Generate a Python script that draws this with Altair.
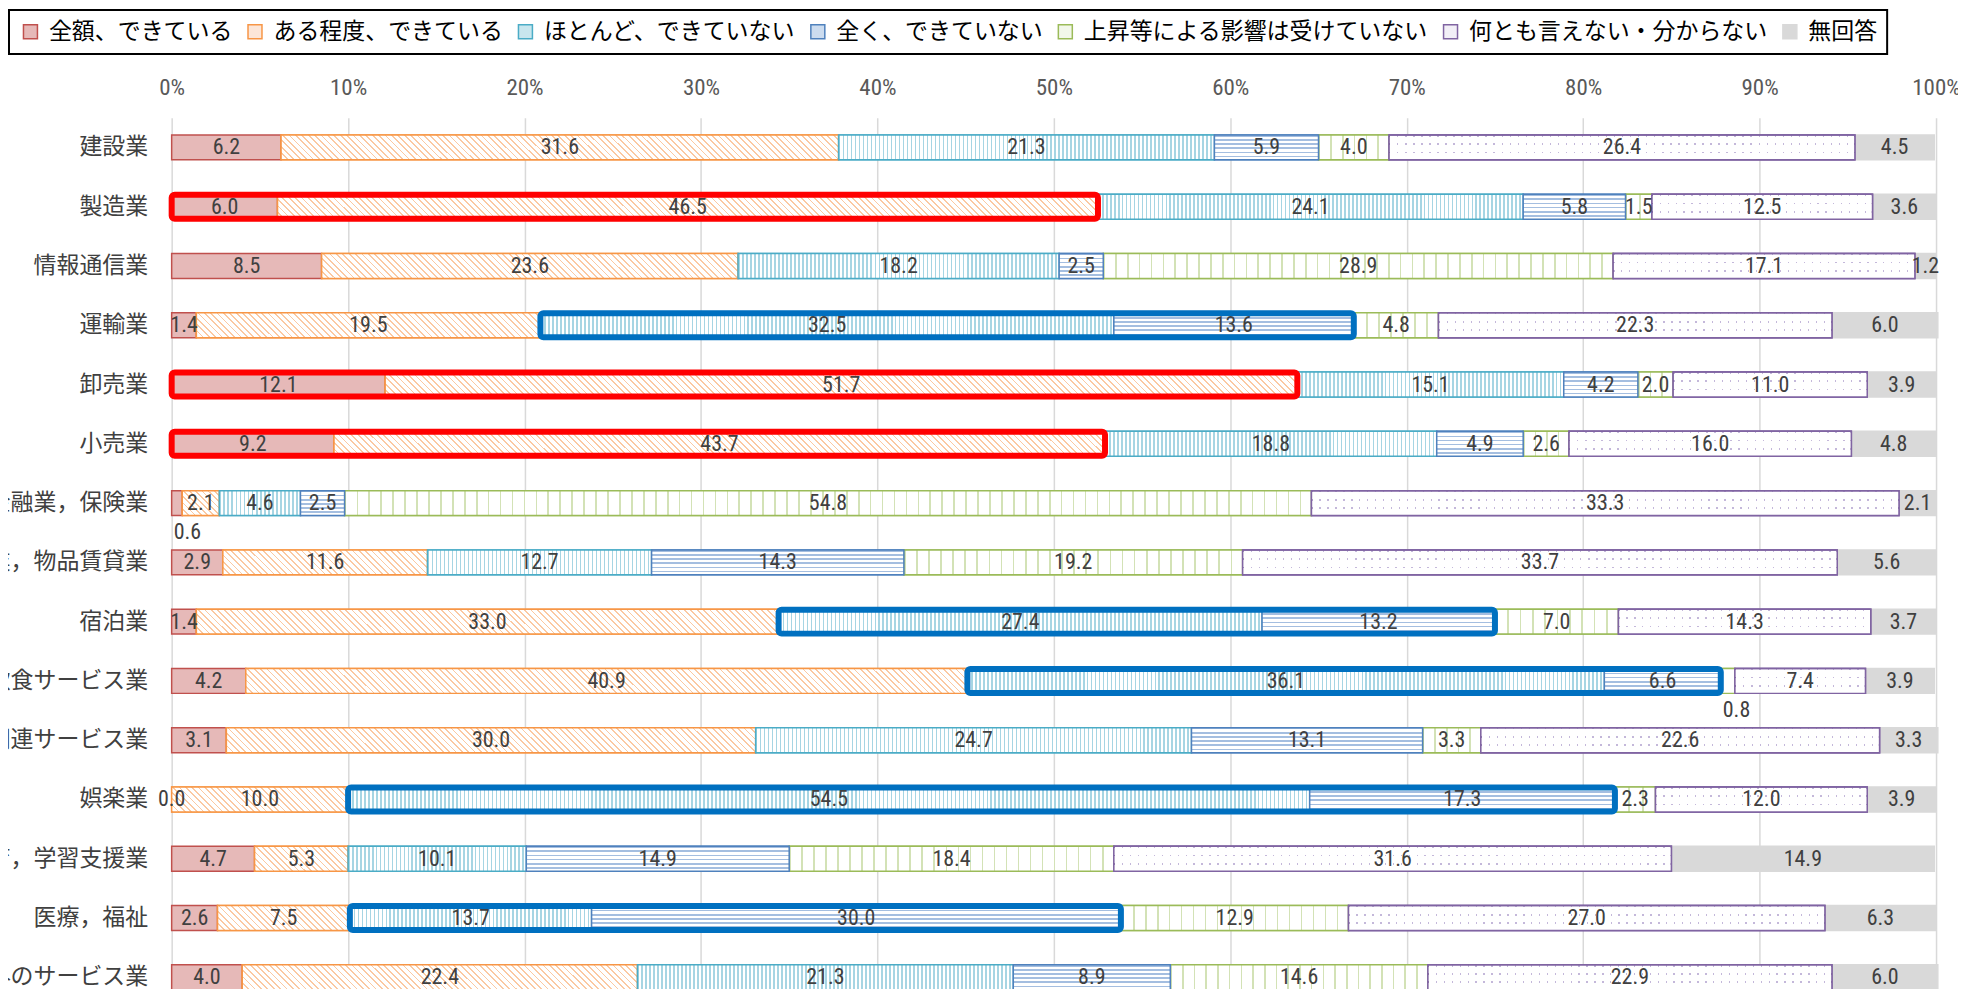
import altair as alt
import pandas as pd

categories = ["建設業", "製造業", "情報通信業", "運輸業", "卸売業", "小売業", "金融業，保険業",
              "不動産業，物品賃貸業", "宿泊業", "飲食サービス業", "生活関連サービス業", "娯楽業",
              "教育，学習支援業", "医療，福祉", "上記以外のサービス業"]
series = ["全額、できている", "ある程度、できている", "ほとんど、できていない", "全く、できていない",
          "上昇等による影響は受けていない", "何とも言えない・分からない", "無回答"]

full_amount = [6.2, 6.0, 8.5, 1.4, 12.1, 9.2, 0.6, 2.9, 1.4, 4.2, 3.1, 0.0, 4.7, 2.6, 4.0]
partly = [31.6, 46.5, 23.6, 19.5, 51.7, 43.7, 2.1, 11.6, 33.0, 40.9, 30.0, 10.0, 5.3, 7.5, 22.4]
hardly = [21.3, 24.1, 18.2, 32.5, 15.1, 18.8, 4.6, 12.7, 27.4, 36.1, 24.7, 54.5, 10.1, 13.7, 21.3]
not_at_all = [5.9, 5.8, 2.5, 13.6, 4.2, 4.9, 2.5, 14.3, 13.2, 6.6, 13.1, 17.3, 14.9, 30.0, 8.9]
unaffected = [4.0, 1.5, 28.9, 4.8, 2.0, 2.6, 54.8, 19.2, 7.0, 0.8, 3.3, 2.3, 18.4, 12.9, 14.6]
unknown = [26.4, 12.5, 17.1, 22.3, 11.0, 16.0, 33.3, 33.7, 14.3, 7.4, 22.6, 12.0, 31.6, 27.0, 22.9]
no_answer = [4.5, 3.6, 1.2, 6.0, 3.9, 4.8, 2.1, 5.6, 3.7, 3.9, 3.3, 3.9, 14.9, 6.3, 6.0]

red_highlight = ["製造業", "卸売業", "小売業"]
blue_highlight = ["運輸業", "宿泊業", "飲食サービス業", "娯楽業", "医療，福祉"]

fill_colors = ["#E6B9B8", "#FCE6D8", "#C8E6EE", "#CCDCEF", "#F2F7EA", "#F2EFF7", "#D9D9D9"]
stroke_colors = ["#C0504D", "#F79646", "#4BACC6", "#4F81BD", "#9BBB59", "#8064A2", "#D9D9D9"]

JP = "Noto Sans CJK JP"
NUM = "Roboto Condensed"

PLOT_W = 1768
PLOT_H = 891
BAR_H = 25

all_vals = [full_amount, partly, hardly, not_at_all, unaffected, unknown, no_answer]
rows = []
hl_rows = []
for i, cat in enumerate(categories):
    start = 0.0
    for j, s in enumerate(series):
        v = all_vals[j][i]
        rows.append({"cat": cat, "series": s, "value": v, "start": start,
                     "end": start + v, "mid": start + v / 2})
        start += v
    a = full_amount[i] + partly[i]
    b = a + hardly[i] + not_at_all[i]
    if cat in red_highlight:
        hl_rows.append({"cat": cat, "kind": "red", "x0": 0.0, "x1": a})
    if cat in blue_highlight:
        hl_rows.append({"cat": cat, "kind": "blue", "x0": a, "x1": b})

df = pd.DataFrame(rows)
hl = pd.DataFrame(hl_rows)

y_sort = alt.Y("cat:N", sort=categories)
y_enc = alt.Y("cat:N", sort=categories,
              scale=alt.Scale(paddingInner=0.58, paddingOuter=0.29),
              axis=alt.Axis(title=None, ticks=False, domain=False, labelFont=JP,
                            labelFontSize=23, labelColor="#404040", labelPadding=24,
                            labelLimit=2000))
x_scale = alt.Scale(domain=[0, 100], nice=False)

leg = alt.Legend(orient="none", legendX=-163, legendY=-108, direction="horizontal", columns=7)

bars = alt.Chart(df).transform_filter("datum.value > 0").mark_bar(strokeWidth=1.5).encode(
    y=y_enc,
    x=alt.X("start:Q", scale=x_scale,
            axis=alt.Axis(orient="top", values=list(range(0, 101, 10)),
                          labelExpr="datum.value + '%'", ticks=False, domain=False,
                          grid=True, gridColor="#D9D9D9", gridWidth=1.5,
                          labelFont=NUM, labelFontSize=23, labelColor="#595959",
                          labelPadding=18, labelFlush=False, title=None)),
    x2="end:Q",
    fill=alt.Fill("series:N", sort=series,
                  scale=alt.Scale(domain=series, range=fill_colors), title=None, legend=leg),
    stroke=alt.Stroke("series:N", sort=series,
                      scale=alt.Scale(domain=series, range=stroke_colors), title=None, legend=leg),
)

CLEAR = "rgba(255,255,255,0)"


def stripe_gradient(n, line, bg, duty, x1, y1, x2, y2):
    n = max(1, int(round(n)))
    stops = []
    for k in range(n):
        a = round(k / n, 6)
        b = round((k + duty) / n, 6)
        c = round((k + 1) / n, 6)
        stops += [alt.GradientStop(color=line, offset=a), alt.GradientStop(color=line, offset=b),
                  alt.GradientStop(color=bg, offset=b), alt.GradientStop(color=bg, offset=c)]
    return alt.LinearGradient(gradient="linear", stops=stops, x1=x1, y1=y1, x2=x2, y2=y2)


def pattern_bar(sub, fill, stroke):
    return alt.Chart(sub).mark_bar(fill=fill, stroke=stroke, strokeWidth=1.5).encode(
        y=y_sort, x="start:Q", x2="end:Q")


pattern_layers = []
px_per_unit = PLOT_W / 100.0
for i, cat in enumerate(categories):
    seg = df[df.cat == cat]
    # diagonal hatching: ある程度、できている
    v = partly[i]
    if v > 0:
        w = v * px_per_unit
        k = BAR_H / w
        s = (1 + k) / (1 + k * k)
        pattern_layers.append(pattern_bar(
            seg[seg.series == series[1]],
            stripe_gradient((w + BAR_H) / 6.4, "#FBC9A2", "#FFFFFF", 0.28, 0, 1, s, 1 - k * s),
            stroke_colors[1]))
    # vertical stripes: ほとんど、できていない
    v = hardly[i]
    if v > 0:
        w = v * px_per_unit
        pattern_layers.append(pattern_bar(
            seg[seg.series == series[2]],
            stripe_gradient(w / 4.0, "#A6D5E3", "#FFFFFF", 0.42, 0, 0, 1, 0),
            stroke_colors[2]))
    # grid: 上昇等による影響は受けていない
    v = unaffected[i]
    if v > 0:
        w = v * px_per_unit
        pattern_layers.append(pattern_bar(
            seg[seg.series == series[4]],
            stripe_gradient(w / 12.0, "#D3E2B6", "#FFFFFF", 0.14, 0, 0, 1, 0),
            stroke_colors[4]))
    # dots: 何とも言えない・分からない (vertical stripes masked by horizontal bands)
    v = unknown[i]
    if v > 0:
        w = v * px_per_unit
        sub = seg[seg.series == series[5]]
        pattern_layers.append(pattern_bar(
            sub, stripe_gradient(w / 8.0, "#C4B8DA", "#FFFFFF", 0.17, 0, 0, 1, 0),
            stroke_colors[5]))
        pattern_layers.append(pattern_bar(
            sub, stripe_gradient(BAR_H / 8.0, CLEAR, "#FFFFFF", 0.2, 0, 0, 0, 1),
            stroke_colors[5]))

# horizontal stripes: 全く、できていない (all bars share one height)
pattern_layers.append(pattern_bar(
    df[(df.series == series[3]) & (df.value > 0)],
    stripe_gradient(BAR_H / 4.0, "#A4BEE0", "#FFFFFF", 0.4, 0, 0, 0, 1),
    stroke_colors[3]))

red_box = alt.Chart(hl).transform_filter("datum.kind == 'red'").mark_bar(
    fillOpacity=0, stroke="#FF0000", strokeWidth=6, size=24, cornerRadius=3).encode(
    y=y_sort, x="x0:Q", x2="x1:Q")
blue_box = alt.Chart(hl).transform_filter("datum.kind == 'blue'").mark_bar(
    fillOpacity=0, stroke="#0070C0", strokeWidth=6, size=24, cornerRadius=3).encode(
    y=y_sort, x="x0:Q", x2="x1:Q")

labels = alt.Chart(df).transform_filter("datum.value == 0 || datum.value >= 1").mark_text(
    font=NUM, fontSize=22, color="#404040", baseline="middle").encode(
    y=y_sort, x="mid:Q", text=alt.Text("value:Q", format=".1f"))

small_labels = alt.Chart(df).transform_filter("datum.value > 0 && datum.value < 1").mark_text(
    font=NUM, fontSize=22, color="#404040", baseline="middle", align="left", dx=2, dy=29).encode(
    y=y_sort, x="start:Q", text=alt.Text("value:Q", format=".1f"))

chart = alt.layer(bars, *pattern_layers, red_box, blue_box, labels, small_labels).properties(
    width=PLOT_W, height=PLOT_H,
    autosize=alt.AutoSizeParams(type="none"),
    padding={"left": 164, "top": 109, "right": 22, "bottom": -19},
).configure_view(stroke=None).configure_legend(
    strokeColor="black", strokeWidth=2, padding=10, symbolType="square", symbolSize=196,
    symbolStrokeWidth=1.5, labelFont=JP, labelFontSize=23, labelColor="black",
    labelLimit=2000, columnPadding=11, labelOffset=7,
)

chart.save("out.html", embed_options={"renderer": "svg", "actions": False})
